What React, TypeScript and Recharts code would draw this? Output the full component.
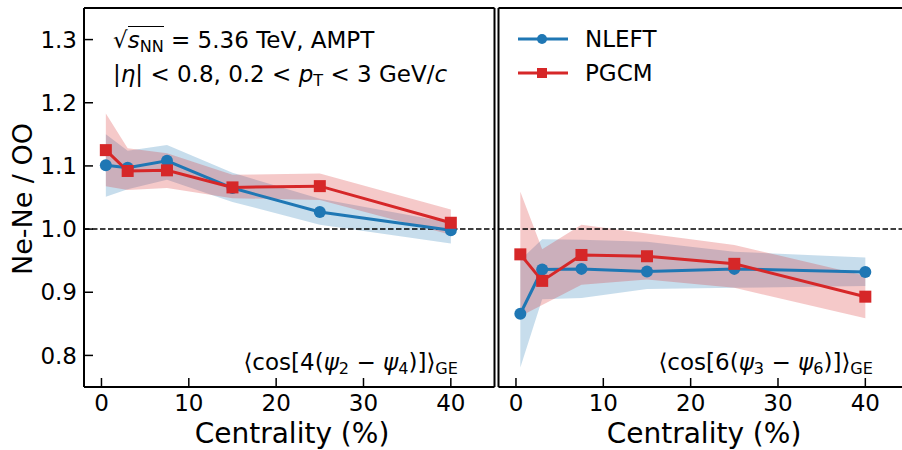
import { Area, ComposedChart, Legend, Line, ReferenceLine, XAxis, YAxis } from 'recharts';

const centrality = [0.5, 3, 7.5, 15, 25, 40];

// <cos[4(psi2 - psi4)]>_GE, Ne-Ne / OO
const nleftCos4 = [1.101, 1.097, 1.108, 1.065, 1.027, 0.998];
const nleftCos4Low = [1.051, 1.063, 1.078, 1.043, 1.007, 0.977];
const nleftCos4High = [1.15, 1.124, 1.133, 1.089, 1.048, 1.01];
const pgcmCos4 = [1.125, 1.092, 1.093, 1.066, 1.068, 1.01];
const pgcmCos4Low = [1.068, 1.062, 1.065, 1.049, 1.046, 0.991];
const pgcmCos4High = [1.183, 1.128, 1.12, 1.086, 1.088, 1.031];

// <cos[6(psi3 - psi6)]>_GE
const nleftCos6 = [0.866, 0.936, 0.937, 0.933, 0.937, 0.932];
const nleftCos6Low = [0.781, 0.889, 0.891, 0.905, 0.907, 0.91];
const nleftCos6High = [0.951, 0.984, 0.983, 0.98, 0.964, 0.955];
const pgcmCos6 = [0.96, 0.918, 0.959, 0.957, 0.945, 0.893];
const pgcmCos6Low = [0.862, 0.88, 0.912, 0.92, 0.907, 0.859];
const pgcmCos6High = [1.059, 0.968, 1.007, 0.993, 0.975, 0.926];

const xTicks = [0, 10, 20, 30, 40];
const yTicks = [0.8, 0.9, 1.0, 1.1, 1.2, 1.3];

const BLUE = '#1f77b4';
const RED = '#d62728';
const FONT = 'DejaVu Sans';

function buildRows(n: number[], nLo: number[], nHi: number[], p: number[], pLo: number[], pHi: number[]) {
	return centrality.map((c, i) => ({
		c,
		nleft: n[i],
		nleftBand: [nLo[i], nHi[i]],
		pgcm: p[i],
		pgcmBand: [pLo[i], pHi[i]],
	}));
}

const cos4Rows = buildRows(nleftCos4, nleftCos4Low, nleftCos4High, pgcmCos4, pgcmCos4Low, pgcmCos4High);
const cos6Rows = buildRows(nleftCos6, nleftCos6Low, nleftCos6High, pgcmCos6, pgcmCos6Low, pgcmCos6High);

function SquareDot(props: any) {
	const { cx, cy, index } = props;
	if (cx == null || cy == null) return <g key={index} />;
	return <rect key={index} x={cx - 6} y={cy - 6} width={12} height={12} fill={RED} />;
}

function SeriesLegend({ payload }: any) {
	const entries = (payload || []).filter((e: any) => e.value === 'NLEFT' || e.value === 'PGCM');
	return (
		<div style={{ fontFamily: FONT, fontSize: 23, color: '#000' }}>
			{entries.map((entry: any) => (
				<div key={entry.value} style={{ display: 'flex', alignItems: 'center', height: 34 }}>
					<svg width={52} height={14}>
						<line x1={1} y1={7} x2={51} y2={7} stroke={entry.color} strokeWidth={3} />
						{entry.value === 'NLEFT' ? (
							<circle cx={25} cy={7} r={5} fill={entry.color} />
						) : (
							<rect x={20} y={2} width={10} height={10} fill={entry.color} />
						)}
					</svg>
					<span style={{ marginLeft: 16 }}>{entry.value}</span>
				</div>
			))}
		</div>
	);
}

const axisLine = { stroke: '#000', strokeWidth: 2 };
const tickLine = { stroke: '#000', strokeWidth: 1.5 };
const tickText = { fill: '#000', fontSize: 23, fontFamily: FONT };

function Panel({ rows, width, margin, yLabels, legend }: any) {
	return (
		<ComposedChart width={width} height={450} data={rows} margin={margin}>
			<XAxis
				dataKey="c"
				type="number"
				domain={[-2, 45]}
				ticks={xTicks}
				allowDataOverflow
				height={1}
				axisLine={axisLine}
				tickLine={tickLine}
				tickSize={-9}
				tickMargin={17}
				tick={tickText}
				interval={0}
			/>
			<XAxis
				xAxisId="top"
				orientation="top"
				type="number"
				domain={[-2, 45]}
				ticks={xTicks}
				allowDataOverflow
				height={1}
				axisLine={axisLine}
				tickLine={tickLine}
				tickSize={-9}
				tick={false}
				interval={0}
			/>
			<YAxis
				type="number"
				domain={[0.75, 1.35]}
				ticks={yTicks}
				allowDataOverflow
				width={1}
				axisLine={axisLine}
				tickLine={tickLine}
				tickSize={-9}
				tickMargin={16}
				tick={yLabels ? tickText : false}
				tickFormatter={(v: number) => v.toFixed(1)}
				interval={0}
			/>
			<YAxis
				yAxisId="right"
				orientation="right"
				type="number"
				domain={[0.75, 1.35]}
				ticks={yTicks}
				allowDataOverflow
				width={1}
				axisLine={axisLine}
				tickLine={tickLine}
				tickSize={-9}
				tick={false}
				interval={0}
			/>
			<ReferenceLine y={1} stroke="#000" strokeWidth={1.5} strokeDasharray="5.5 2.5" />
			<Area
				dataKey="nleftBand"
				type="linear"
				stroke="none"
				fill={BLUE}
				fillOpacity={0.25}
				legendType="none"
				dot={false}
				activeDot={false}
				isAnimationActive={false}
			/>
			<Area
				dataKey="pgcmBand"
				type="linear"
				stroke="none"
				fill={RED}
				fillOpacity={0.25}
				legendType="none"
				dot={false}
				activeDot={false}
				isAnimationActive={false}
			/>
			<Line
				name="NLEFT"
				dataKey="nleft"
				type="linear"
				stroke={BLUE}
				strokeWidth={3}
				dot={{ r: 6, fill: BLUE, stroke: 'none' }}
				activeDot={false}
				isAnimationActive={false}
			/>
			<Line
				name="PGCM"
				dataKey="pgcm"
				type="linear"
				stroke={RED}
				strokeWidth={3}
				dot={SquareDot}
				activeDot={false}
				isAnimationActive={false}
			/>
			{legend && (
				<Legend
					layout="vertical"
					align="center"
					verticalAlign="middle"
					content={<SeriesLegend />}
					wrapperStyle={{ left: 27, top: 22, width: 'auto' }}
				/>
			)}
		</ComposedChart>
	);
}

const sub = { fontSize: '0.7em', verticalAlign: '-0.25em', lineHeight: 0 };

export default function App() {
	return (
		<div
			style={{
				position: 'absolute',
				left: 0,
				top: 0,
				width: 902,
				height: 450,
				overflow: 'hidden',
				background: '#fff',
				fontFamily: FONT,
				color: '#000',
			}}
		>
			<div style={{ position: 'absolute', left: 0, top: 0 }}>
				<Panel rows={cos4Rows} width={500} margin={{ top: 7, right: 4.5, bottom: 62, left: 83 }} yLabels />
			</div>
			<div style={{ position: 'absolute', left: 490, top: 0 }}>
				<Panel rows={cos6Rows} width={430} margin={{ top: 7, right: 10, bottom: 62, left: 7.5 }} legend />
			</div>

			<div style={{ position: 'absolute', left: 113, top: 23, fontSize: 23, lineHeight: '34px', whiteSpace: 'nowrap' }}>
				<div>
					√<span style={{ borderTop: '1.5px solid #000' }}>
						<i>s</i>
						<span style={sub}>NN</span>
					</span>{' '}
					= 5.36 TeV, AMPT
				</div>
				<div>
					|<i>η</i>| &lt; 0.8, 0.2 &lt; <i>p</i>
					<span style={sub}>T</span> &lt; 3 GeV/<i>c</i>
				</div>
			</div>

			<div style={{ position: 'absolute', right: 444, top: 350.5, fontSize: 23, lineHeight: '23px', whiteSpace: 'nowrap' }}>
				⟨cos[4(<i>ψ</i>
				<span style={sub}>2</span> − <i>ψ</i>
				<span style={sub}>4</span>)]⟩<span style={sub}>GE</span>
			</div>
			<div style={{ position: 'absolute', right: 29, top: 350.5, fontSize: 23, lineHeight: '23px', whiteSpace: 'nowrap' }}>
				⟨cos[6(<i>ψ</i>
				<span style={sub}>3</span> − <i>ψ</i>
				<span style={sub}>6</span>)]⟩<span style={sub}>GE</span>
			</div>

			<div
				style={{
					position: 'absolute',
					left: 22,
					top: 199,
					fontSize: 27,
					lineHeight: 1,
					whiteSpace: 'nowrap',
					transform: 'translate(-50%, -50%) rotate(-90deg)',
				}}
			>
				Ne-Ne / OO
			</div>
			<div style={{ position: 'absolute', left: 292, top: 420, fontSize: 28, lineHeight: '28px', whiteSpace: 'nowrap', transform: 'translateX(-50%)' }}>
				Centrality (%)
			</div>
			<div style={{ position: 'absolute', left: 704, top: 420, fontSize: 28, lineHeight: '28px', whiteSpace: 'nowrap', transform: 'translateX(-50%)' }}>
				Centrality (%)
			</div>
		</div>
	);
}
